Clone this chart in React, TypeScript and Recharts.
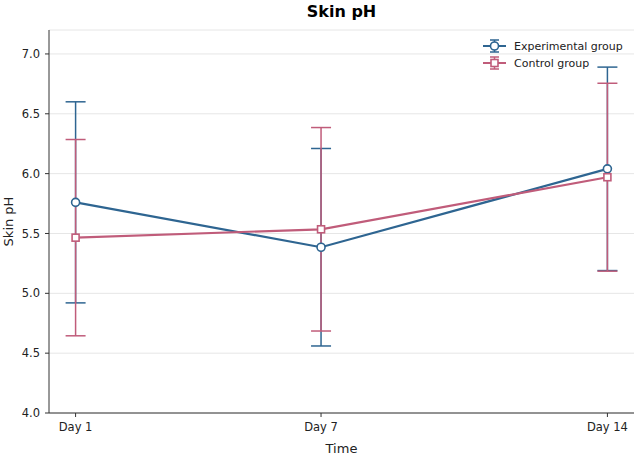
import React from 'react';
import {
  LineChart,
  Line,
  XAxis,
  YAxis,
  CartesianGrid,
  ErrorBar,
  Customized,
} from 'recharts';

const days = [1, 7, 14];
const dayLabels = ['Day 1', 'Day 7', 'Day 14'];
const expMean = [5.76, 5.385, 6.04];
const expErr = [0.84, 0.825, 0.85];
const ctrlMean = [5.465, 5.535, 5.97];
const ctrlErr = [0.82, 0.85, 0.785];
const yTicks = [4.0, 4.5, 5.0, 5.5, 6.0, 6.5, 7.0];
const seriesNames = ['Experimental group', 'Control group'];

const BLUE = '#2E6591';
const PINK = '#C05C7A';
const FONT = 'DejaVu Sans, Verdana, sans-serif';

const data = days.map((d, i) => ({
  day: d,
  exp: expMean[i],
  expErr: expErr[i],
  ctrl: ctrlMean[i],
  ctrlErr: ctrlErr[i],
}));

const SquareDot = (props: any) => {
  const { cx, cy, index } = props;
  if (cx == null || cy == null) return <g key={`sq-${index}`} />;
  return (
    <rect
      key={`sq-${index}`}
      x={cx - 3.5}
      y={cy - 3.5}
      width={7}
      height={7}
      fill="#fff"
      stroke={PINK}
      strokeWidth={1.6}
    />
  );
};

const Overlay = () => {
  const rows = [
    { name: seriesNames[0], color: BLUE, shape: 'circle', y: 46 },
    { name: seriesNames[1], color: PINK, shape: 'square', y: 63 },
  ];
  return (
    <g>
      <text
        x={341.5}
        y={16.5}
        textAnchor="middle"
        fontFamily={FONT}
        fontWeight="bold"
        fontSize={16}
        fill="#000"
      >
        Skin pH
      </text>
      {rows.map((r) => (
        <g key={r.name}>
          <line x1={483} x2={506} y1={r.y} y2={r.y} stroke={r.color} strokeWidth={2} />
          <line x1={494.5} x2={494.5} y1={r.y - 6} y2={r.y + 6} stroke={r.color} strokeWidth={1.5} />
          <line x1={490} x2={499} y1={r.y - 6} y2={r.y - 6} stroke={r.color} strokeWidth={1.5} />
          <line x1={490} x2={499} y1={r.y + 6} y2={r.y + 6} stroke={r.color} strokeWidth={1.5} />
          {r.shape === 'circle' ? (
            <circle cx={494.5} cy={r.y} r={4} fill="#fff" stroke={r.color} strokeWidth={1.6} />
          ) : (
            <rect x={491} y={r.y - 3.5} width={7} height={7} fill="#fff" stroke={r.color} strokeWidth={1.6} />
          )}
          <text
            x={514}
            y={r.y}
            dominantBaseline="central"
            fontFamily={FONT}
            fontSize={11}
            fill="#222"
          >
            {r.name}
          </text>
        </g>
      ))}
    </g>
  );
};

export default function App() {
  return (
    <div style={{ width: 638, height: 455, background: '#fff' }}>
      <style>{`body{margin:0;background:#fff}`}</style>
      <LineChart
        width={638}
        height={455}
        data={data}
        margin={{ top: 30, right: 4, bottom: 0, left: 0 }}
      >
        <CartesianGrid vertical={false} stroke="#e6e6e6" strokeWidth={1} />
        <XAxis
          type="number"
          dataKey="day"
          domain={[0.35, 14.65]}
          ticks={days}
          tickFormatter={(v: number) => dayLabels[days.indexOf(v)] ?? String(v)}
          height={42}
          tickSize={4}
          tickMargin={6}
          stroke="#333"
          tick={{ fill: '#222', fontSize: 11.5, fontFamily: FONT }}
          allowDataOverflow
          label={{
            value: 'Time',
            position: 'insideBottom',
            offset: 2,
            style: { fill: '#222', fontSize: 13, fontFamily: FONT },
          }}
        />
        <YAxis
          type="number"
          domain={[4, 7.2]}
          ticks={yTicks}
          tickFormatter={(v: number) => v.toFixed(1)}
          width={49}
          tickSize={4}
          tickMargin={5}
          stroke="#333"
          tick={{ fill: '#222', fontSize: 11.5, fontFamily: FONT }}
          allowDataOverflow
          label={{
            value: 'Skin pH',
            angle: -90,
            position: 'insideLeft',
            offset: 8,
            style: { fill: '#222', fontSize: 13, fontFamily: FONT, textAnchor: 'middle' },
          }}
        />
        <Line
          dataKey="exp"
          stroke="none"
          dot={false}
          activeDot={false}
          legendType="none"
          isAnimationActive={false}
        >
          <ErrorBar dataKey="expErr" width={10} stroke={BLUE} strokeWidth={1.5} direction="y" />
        </Line>
        <Line
          dataKey="ctrl"
          stroke="none"
          dot={false}
          activeDot={false}
          legendType="none"
          isAnimationActive={false}
        >
          <ErrorBar dataKey="ctrlErr" width={10} stroke={PINK} strokeWidth={1.5} direction="y" />
        </Line>
        <Line
          dataKey="exp"
          name={seriesNames[0]}
          stroke={BLUE}
          strokeWidth={2.2}
          dot={{ r: 4, fill: '#fff', stroke: BLUE, strokeWidth: 1.6 }}
          activeDot={false}
          isAnimationActive={false}
        />
        <Line
          dataKey="ctrl"
          name={seriesNames[1]}
          stroke={PINK}
          strokeWidth={2.2}
          dot={SquareDot}
          activeDot={false}
          isAnimationActive={false}
        />
        <Customized component={Overlay} />
      </LineChart>
    </div>
  );
}
